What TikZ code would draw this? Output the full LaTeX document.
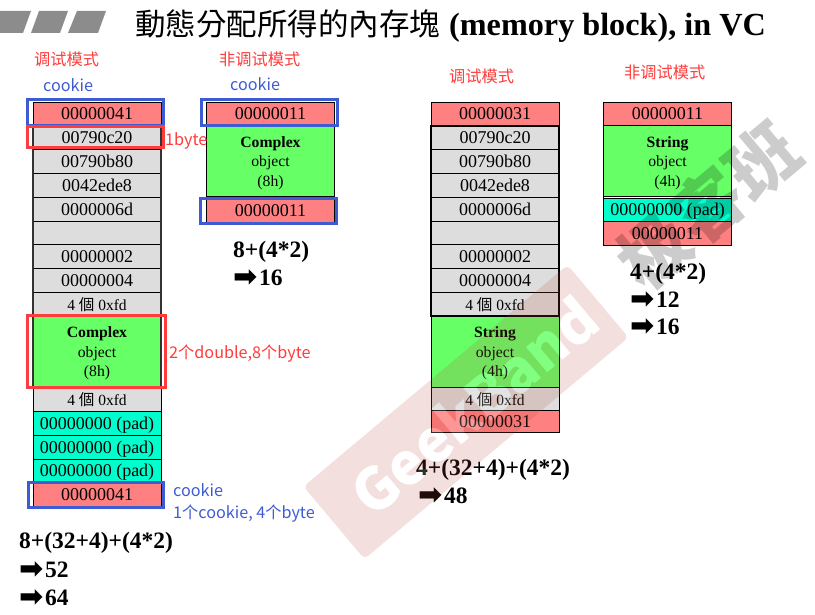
\documentclass[tikz,border=0pt]{standalone}
\usepackage{fontspec}
\usepackage{tikz}
\usetikzlibrary{fadings}
\setmainfont{Liberation Serif}
\newfontfamily\cjktc{Noto Sans CJK TC}
\newfontfamily\cjksc{Noto Sans CJK SC}
\newfontfamily\arrowfont{DejaVu Sans}
\newcommand{\sized}[1]{\fontsize{#1}{#1}\selectfont}
\newcommand{\fourfd}{{\sized{15.5}4 {\cjktc 個} 0xfd}}
\newcommand{\objlab}[2]{\rule{0pt}{14.5pt}\textbf{#1}\\object\\(#2)}
\newcommand{\goesto}{\makebox[26pt][l]{\smash{\raisebox{-1pt}{\arrowfont\sized{29}\char"27A1}}}}

\tikzset{
    cell/.style={draw=black,line width=0.8pt,minimum width=128pt,minimum height=23.8pt,
        inner sep=0pt,outer sep=0pt,anchor=north,font=\sized{18},text height=12pt,text depth=0pt},
    cookiecell/.style={cell,fill=cookiered},
    addrcell/.style={cell,fill=cellgray},
    padcell/.style={cell,fill=padcyan},
    objcell/.style={cell,fill=objgreen,align=center,minimum height=71pt,text height=,text depth=,
        font=\fontsize{15.7}{19.5}\selectfont},
    bluebox/.style={draw=markblue,line width=3pt},
    redbox/.style={draw=markred,line width=3pt},
    redlab/.style={text=markred,anchor=west,inner sep=0pt,font=\cjksc\sized{16.2}},
    bluelab/.style={text=markblue,anchor=west,inner sep=0pt,font=\cjksc\sized{16.2}},
    sumlab/.style={anchor=west,inner sep=0pt,font=\bfseries\sized{23.5}},
    stripe/.style={fill=stripegray},
    brandfont/.style={font=\cjksc\bfseries\sized{58}},
}
\definecolor{cookiered}{HTML}{FF8080}
\definecolor{cellgray}{HTML}{DDDDDD}
\definecolor{padcyan}{HTML}{00FFCC}
\definecolor{objgreen}{HTML}{66FF66}
\definecolor{markblue}{HTML}{3D5BD3}
\definecolor{markred}{HTML}{FF3B3B}
\definecolor{stripegray}{HTML}{8C8C8C}
\definecolor{stampred}{HTML}{B84A3C}

\begin{tikzfadingfrompicture}[name=stampfade]
    \fill[transparent!0,rounded corners=6pt] (-172.5pt,-47.5pt) rectangle (172.5pt,47.5pt);
    \node[brandfont,text=transparent!100] at (10pt,0pt) {GeekBand};
\end{tikzfadingfrompicture}

\begin{document}
\begin{tikzpicture}[x=1pt,y=-1pt]
    \useasboundingbox (0,0) rectangle (815,615);
    % title
    \fill[stripe] (0,11) -- (31,11) -- (23,33) -- (0,33) -- cycle;
    \fill[stripe] (39,11) -- (68,11) -- (60,33) -- (31,33) -- cycle;
    \fill[stripe] (77,11) -- (106,11) -- (98,33) -- (68,33) -- cycle;
    \node[anchor=base west,inner sep=0pt] (title) at (135,36)
        {{\cjktc\sized{30.5}動態分配所得的內存塊}\hspace{9pt}\textbf{\sized{32.2}(memory block), in VC}};
    % debug, complex
    \foreach \i/\lab/\sty in {0/00000041/cookiecell,1/00790c20/addrcell,2/00790b80/addrcell,
        3/0042ede8/addrcell,4/0000006d/addrcell,5//addrcell,6/00000002/addrcell,
        7/00000004/addrcell,8/\fourfd/addrcell}{
        \node[\sty] (ca\i) at (97,{102+23.8*\i}) {\lab};
    }
    \node[objcell] (caobj) at (97,316.2) {\objlab{Complex}{8h}};
    \foreach \i/\lab/\sty in {0/\fourfd/addrcell,1/00000000 (pad)/padcell,2/00000000 (pad)/padcell,
        3/00000000 (pad)/padcell,4/00000041/cookiecell}{
        \node[\sty] (cb\i) at (97,{387.6+23.8*\i}) {\lab};
    }
    \draw[line width=1.4pt,black!80] (ca1.north west) rectangle (caobj.south east);
    % release, complex
    \node[cookiecell] (da0) at (270.5,102) {00000011};
    \node[objcell] (daobj) at (270.5,125.8) {\objlab{Complex}{8h}};
    \node[cookiecell] (da1) at (270.5,199) {00000011};
    % debug, string
    \foreach \i/\lab/\sty in {0/00000031/cookiecell,1/00790c20/addrcell,2/00790b80/addrcell,
        3/0042ede8/addrcell,4/0000006d/addrcell,5//addrcell,6/00000002/addrcell,
        7/00000004/addrcell,8/\fourfd/addrcell}{
        \node[\sty] (sa\i) at (495,{102+23.8*\i}) {\lab};
    }
    \node[objcell] (saobj) at (495,316.2) {\objlab{String}{4h}};
    \node[addrcell] (sb0) at (495,387.6) {\fourfd};
    \node[cookiecell,minimum height=22.5pt] (sb1) at (495,410.2) {00000031};
    \draw[line width=2pt] (sa1.north west) rectangle (sa8.south east);
    % release, string
    \node[cookiecell] (ra0) at (667.5,102) {00000011};
    \node[objcell] (raobj) at (667.5,125.8) {\objlab{String}{4h}};
    \node[padcell] (ra1) at (667.5,198) {00000000 (pad)};
    \node[cookiecell] (ra2) at (667.5,221.8) {00000011};
    \draw[line width=1.4pt] (raobj.north west) rectangle (ra1.south east);
    % marks
    \draw[bluebox] (27.5,100) rectangle (163.5,125.5);
    \draw[redbox] (27.5,127) rectangle (163,148);
    \draw[redbox] (27.5,315.5) rectangle (165.5,387);
    \draw[bluebox] (28,482.5) rectangle (163,507.5);
    \draw[bluebox] (201.5,100) rectangle (337,125.5);
    \draw[bluebox] (200.5,199) rectangle (336,224);
    % labels
    \node[redlab] (mode1) at (34,59) {调试模式};
    \node[redlab] (mode2) at (219,59) {非调试模式};
    \node[redlab] (mode3) at (449,76) {调试模式};
    \node[redlab] (mode4) at (624,72) {非调试模式};
    \node[bluelab] (ck1) at (43,85) {cookie};
    \node[bluelab] (ck2) at (230,84) {cookie};
    \node[redlab] (one) at (165,140.5) {1byte};
    \node[redlab] (two) at (169,353.5) {2个double,8个byte};
    \node[bluelab] (ck3) at (173,490) {cookie};
    \node[bluelab] (ck4) at (173,513.5) {1个cookie, 4个byte};
    % sums
    \node[sumlab] (suma) at (19,543) {8+(32+4)+(4*2)};
    \node[sumlab] (sumb) at (19,570) {\goesto 52};
    \node[sumlab] (sumc) at (19,598) {\goesto 64};
    \node[sumlab] (sumd) at (233,252) {8+(4*2)};
    \node[sumlab] (sume) at (233,278) {\goesto 16};
    \node[sumlab] (sumf) at (416,470) {4+(32+4)+(4*2)};
    \node[sumlab] (sumg) at (418,496) {\goesto 48};
    \node[sumlab] (sumh) at (630,274) {4+(4*2)};
    \node[sumlab] (sumi) at (630,300) {\goesto 12};
    \node[sumlab] (sumj) at (630,327) {\goesto 16};
    % watermark
    \begin{scope}[transform canvas={shift={(466,412)},rotate=40}]
        \path[fill=stampred,opacity=0.17,path fading=stampfade,fit fading=false]
            (-172.5,-47.5) rectangle (172.5,47.5);
    \end{scope}
    \node[rotate=40,brandfont,text=white,opacity=0.18] (gk) at (473.7,405.6) {GeekBand};
    \node[rotate=40,text=black,opacity=0.2,font=\cjktc\bfseries\sized{70}] (gkb) at (708,205) {极客班};
\end{tikzpicture}
\end{document}
